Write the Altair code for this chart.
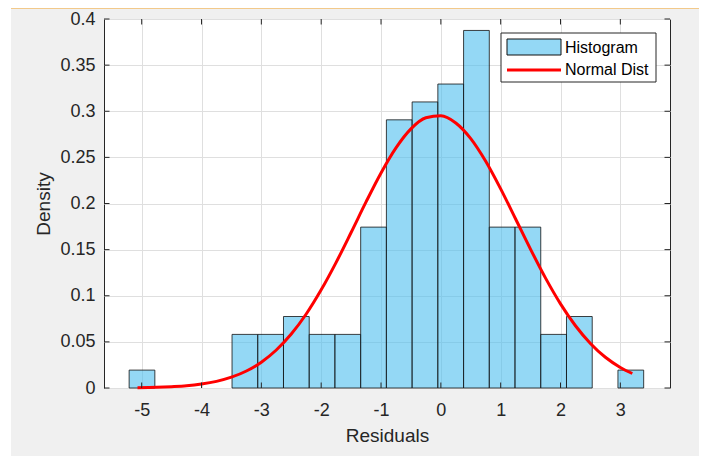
import altair as alt
import pandas as pd

# ---- data ----
bin_edges = [-5.21, -4.78, -4.35, -3.92, -3.49, -3.06, -2.63, -2.20, -1.77, -1.34, -0.91,
             -0.48, -0.05, 0.38, 0.81, 1.24, 1.67, 2.10, 2.53, 2.96, 3.39]
densities = [0.0194, 0, 0, 0, 0.0581, 0.0581, 0.0775, 0.0581, 0.0581, 0.1744,
             0.2907, 0.3101, 0.3295, 0.3876, 0.1744, 0.1744, 0.0581, 0.0775, 0, 0.0194]

curve_x = [-5.07, -4.75, -4.5, -4.25, -4.0, -3.75, -3.5, -3.25, -3.0, -2.75, -2.5, -2.25,
           -2.0, -1.75, -1.5, -1.25, -1.0, -0.75, -0.5, -0.25, 0.0, 0.25, 0.5, 0.75,
           1.0, 1.25, 1.5, 1.75, 2.0, 2.25, 2.5, 2.75, 3.0, 3.2]
curve_y = [0.0003, 0.0007, 0.0014, 0.0024, 0.0043, 0.0072, 0.0117, 0.0184, 0.0280, 0.0412,
           0.0585, 0.0802, 0.1064, 0.1362, 0.1686, 0.2017, 0.2331, 0.2603, 0.2809, 0.2929,
           0.2951, 0.2873, 0.2703, 0.2457, 0.2158, 0.1832, 0.1503, 0.1191, 0.0912, 0.0675,
           0.0483, 0.0333, 0.0223, 0.0157]

x_ticks = [-5, -4, -3, -2, -1, 0, 1, 2, 3]
y_ticks = [0, 0.05, 0.1, 0.15, 0.2, 0.25, 0.3, 0.35, 0.4]
legend_labels = ["Histogram", "Normal Dist"]
x_title = "Residuals"
y_title = "Density"

# ---- tables ----
df_bars = pd.DataFrame({
    "left": bin_edges[:-1],
    "right": bin_edges[1:],
    "density": densities,
})
df_bars = df_bars[df_bars["density"] > 0]
df_curve = pd.DataFrame({"x": curve_x, "y": curve_y})
df_xt = pd.DataFrame({"v": x_ticks})
df_yt = pd.DataFrame({"v": y_ticks})
one = pd.DataFrame({"k": [0]})

W, H = 566, 369
PAD = {"left": 96, "top": 11, "right": 29, "bottom": 68}
TL = 5.5
FONT = "Liberation Sans"
AX = "#262626"
BAR_FILL = "#4dbeee"
GRID = "#dfdfdf"

xscale = alt.Scale(domain=[-5.63, 3.83], nice=False, zero=False)
yscale = alt.Scale(domain=[0, 0.4], nice=False, zero=False)

main_x = alt.Axis(orient="bottom", values=x_ticks, labelExpr="'' + datum.value",
                  grid=True, gridColor=GRID, gridWidth=1, ticks=False, tickSize=0,
                  domain=False, labelPadding=13, labelFontSize=18, labelFont=FONT,
                  labelColor=AX, title=x_title, titleFont=FONT, titleFontSize=19,
                  titleFontWeight="normal", titleColor=AX, titleX=W / 2, titleY=53,
                  titleAlign="center", titleBaseline="alphabetic")
main_y = alt.Axis(orient="left", values=y_ticks, format="~g",
                  grid=True, gridColor=GRID, gridWidth=1, ticks=False, tickSize=0,
                  domain=False, labelPadding=9, labelFontSize=18, labelFont=FONT,
                  labelColor=AX, title=y_title, titleFont=FONT, titleFontSize=19,
                  titleFontWeight="normal", titleColor=AX, titleX=-55, titleY=H / 2,
                  titleAngle=270, titleAlign="center", titleBaseline="alphabetic")

X = lambda f: alt.X(f, scale=xscale, axis=main_x)
Y = lambda f: alt.Y(f, scale=yscale, axis=main_y)

bars = alt.Chart(df_bars).mark_rect(
    fill=BAR_FILL, fillOpacity=0.6, stroke="#111111", strokeWidth=0.8
).encode(
    x=X("left:Q"),
    x2="right:Q",
    y=Y("density:Q"),
    y2=alt.datum(0),
)

curve = alt.Chart(df_curve).mark_line(
    color="#ff0000", strokeWidth=3, interpolate="monotone"
).encode(x=X("x:Q"), y=Y("y:Q"))

# inward ticks on all four sides (MATLAB box style)
tick_style = dict(color=AX, strokeWidth=1)
xt_bottom = alt.Chart(df_xt).mark_rule(**tick_style).encode(
    x=X("v:Q"), y=alt.value(H), y2=alt.value(H - TL))
xt_top = alt.Chart(df_xt).mark_rule(**tick_style).encode(
    x=X("v:Q"), y=alt.value(0), y2=alt.value(TL))
yt_left = alt.Chart(df_yt).mark_rule(**tick_style).encode(
    y=Y("v:Q"), x=alt.value(0), x2=alt.value(TL))
yt_right = alt.Chart(df_yt).mark_rule(**tick_style).encode(
    y=Y("v:Q"), x=alt.value(W), x2=alt.value(W - TL))

# ---- legend (drawn by hand, MATLAB style) ----
leg_box = alt.Chart(one).mark_rect(fill="white", stroke=AX, strokeWidth=1).encode(
    x=alt.value(397), x2=alt.value(552), y=alt.value(14), y2=alt.value(63))
leg_swatch = alt.Chart(one).mark_rect(
    fill=BAR_FILL, fillOpacity=0.6, stroke="#111111", strokeWidth=1
).encode(x=alt.value(403), x2=alt.value(457), y=alt.value(20), y2=alt.value(36))
leg_line = alt.Chart(one).mark_rule(color="#ff0000", strokeWidth=3).encode(
    x=alt.value(403), x2=alt.value(457), y=alt.value(51))
leg_t1 = alt.Chart(one).mark_text(
    align="left", baseline="alphabetic", font=FONT, fontSize=16, color="#000000"
).encode(x=alt.value(461), y=alt.value(34), text=alt.value(legend_labels[0]))
leg_t2 = alt.Chart(one).mark_text(
    align="left", baseline="alphabetic", font=FONT, fontSize=16, color="#000000"
).encode(x=alt.value(461), y=alt.value(56), text=alt.value(legend_labels[1]))

# ---- page decorations (screenshot border strips) ----
white_strip = alt.Chart(one).mark_rect(fill="white").encode(
    x=alt.value(-PAD["left"]), x2=alt.value(-PAD["left"] + 3),
    y=alt.value(-PAD["top"]), y2=alt.value(H + PAD["bottom"]))
top_strip = alt.Chart(one).mark_rect(fill="#f2c98a").encode(
    x=alt.value(-PAD["left"] + 3), x2=alt.value(W + PAD["right"]),
    y=alt.value(-PAD["top"]), y2=alt.value(-PAD["top"] + 1))

chart = alt.layer(
    white_strip, top_strip, bars, curve,
    xt_bottom, xt_top, yt_left, yt_right,
    leg_box, leg_swatch, leg_line, leg_t1, leg_t2
).properties(
    width=W, height=H,
    padding=PAD,
    autosize=alt.AutoSizeParams(type="none"),
    background="#f0f0f0",
).configure_view(
    fill="white", stroke=AX, strokeWidth=1
)

chart.save("out.html", embed_options={"renderer": "svg", "actions": False})
